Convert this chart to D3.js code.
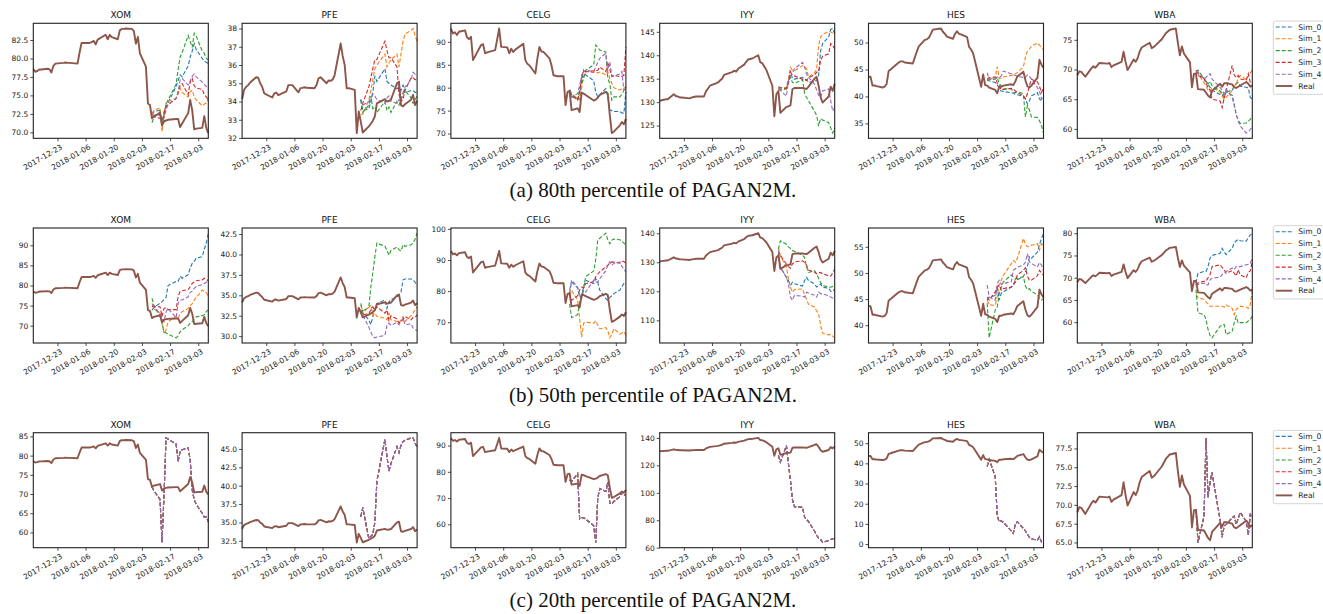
<!DOCTYPE html>
<html>
<head>
<meta charset="utf-8">
<script src="https://cdn.jsdelivr.net/npm/d3@7"></script>
<style>
body { margin: 0; background: #fff; }
</style>
</head>
<body>
<div id="chart"></div>
<script>
const tickers = ["XOM", "PFE", "CELG", "IYY", "HES", "WBA"]
const captions = ["(a) 80th percentile of PAGAN2M.", "(b) 50th percentile of PAGAN2M.", "(c) 20th percentile of PAGAN2M."]
const series_names = ["Sim_0", "Sim_1", "Sim_2", "Sim_3", "Sim_4", "Real"]
const series_colors = ["#1f77b4", "#ff7f0e", "#2ca02c", "#d62728", "#9467bd", "#8c564b"]
const date_ticks = ["2017-12-23", "2018-01-06", "2018-01-20", "2018-02-03", "2018-02-17", "2018-03-03"]
const date_range = ["2017-12-11", "2018-03-08"]

const real_dates = [
    "2017-12-11","2017-12-12","2017-12-13","2017-12-14","2017-12-15","2017-12-18","2017-12-19","2017-12-20","2017-12-21","2017-12-22","2017-12-26","2017-12-27","2017-12-28","2017-12-29",
    "2018-01-02","2018-01-03","2018-01-04","2018-01-05","2018-01-08","2018-01-09","2018-01-10","2018-01-11","2018-01-12","2018-01-16","2018-01-17","2018-01-18","2018-01-19","2018-01-22","2018-01-23","2018-01-24","2018-01-25","2018-01-26","2018-01-29","2018-01-30","2018-01-31",
    "2018-02-01","2018-02-02","2018-02-05","2018-02-06","2018-02-07","2018-02-08","2018-02-09","2018-02-12","2018-02-13","2018-02-14","2018-02-15","2018-02-16","2018-02-20","2018-02-21","2018-02-22","2018-02-23","2018-02-26","2018-02-27","2018-02-28",
    "2018-03-01","2018-03-02","2018-03-05","2018-03-06","2018-03-07","2018-03-08"]
const sim_dates = [
    "2018-02-08","2018-02-09","2018-02-12","2018-02-13","2018-02-14","2018-02-15","2018-02-16","2018-02-20","2018-02-21","2018-02-22","2018-02-23","2018-02-26","2018-02-27","2018-02-28",
    "2018-03-01","2018-03-02","2018-03-05","2018-03-06","2018-03-07","2018-03-08"]

// real prices, one value per trading day
const real_xom = [78.55, 78.2, 78.3, 78.5, 78.5, 78.6, 78.55, 78.1, 79.0, 79.3, 79.4, 79.45, 79.4, 79.4,
    79.3, 80.8, 82.1, 82.1, 82.1, 82.2, 82.4, 81.9, 82.55, 83.2, 82.6, 83.2, 82.9, 82.6, 83.8, 84.0, 84.0, 84.05, 84.0, 83.7, 82.0,
    82.9, 80.7, 78.9, 73.9, 73.7, 71.9, 72.2, 72.6, 70.9, 71.5, 71.6, 71.7, 71.8, 71.8, 70.7, 71.2, 72.6, 74.4, 73.0,
    70.4, 70.5, 70.6, 72.2, 70.6, 69.9]
const real_pfe = [34.13, 34.64, 34.8, 34.9, 35.04, 35.33, 35.3, 35.0, 34.8, 34.45, 34.22, 34.45, 34.49, 34.35,
    34.55, 34.9, 34.9, 34.9, 34.5, 34.73, 34.75, 34.78, 34.75, 34.73, 34.9, 35.27, 35.33, 35.0, 35.15, 35.13, 35.2, 35.45, 37.18, 36.5, 36.0,
    34.73, 34.73, 34.64, 32.27, 33.45, 32.9, 32.3, 32.64, 32.78, 32.95, 33.18, 33.9, 34.13, 34.0, 34.03, 34.1, 35.0, 35.09, 33.8,
    33.73, 33.85, 34.1, 34.36, 33.8, 34.05]
const real_celg = [92.9, 91.8, 92.1, 91.5, 92.2, 92.5, 91.0, 90.6, 91.1, 86.0, 89.3, 89.5, 87.5, 87.7,
    88.2, 90.5, 92.9, 88.9, 88.8, 87.5, 88.5, 87.8, 88.3, 89.6, 86.0, 85.2, 84.9, 83.1, 86.4, 88.9, 87.9, 87.8, 86.4, 84.9, 82.7,
    82.6, 82.5, 82.5, 76.2, 79.1, 79.3, 75.1, 75.5, 74.7, 78.9, 78.7, 78.4, 77.2, 77.4, 77.8, 78.4, 79.1, 78.7, 74.0,
    70.1, 70.4, 71.8, 72.5, 72.0, 73.2]
const real_iyy = [130.25, 130.4, 130.5, 130.6, 130.6, 131.7, 131.3, 131.2, 131.0, 131.0, 130.8, 131.0, 131.1, 131.2,
    131.2, 132.3, 132.9, 133.5, 134.0, 134.2, 134.6, 135.0, 135.8, 136.4, 136.7, 136.5, 137.1, 138.0, 138.6, 139.1, 139.2, 139.3, 140.0, 138.5, 138.3,
    137.6, 136.9, 133.5, 127.0, 131.7, 132.4, 127.7, 129.0, 129.1, 129.3, 132.8, 133.0, 133.0, 132.9, 132.8, 133.3, 135.0, 135.4, 133.5,
    131.0, 129.9, 131.2, 133.3, 132.4, 133.9]
const real_hes = [43.66, 43.66, 42.0, 42.05, 41.9, 41.65, 41.8, 42.3, 44.7, 45.0, 46.3, 46.5, 46.5, 46.3,
    46.1, 47.2, 48.3, 49.3, 50.5, 50.6, 50.9, 51.6, 52.4, 52.6, 52.0, 51.6, 51.1, 50.7, 51.6, 52.1, 51.6, 51.5, 51.0, 49.2, 48.7,
    48.0, 46.5, 41.8, 44.1, 42.1, 42.0, 41.65, 41.2, 40.6, 41.8, 41.8, 42.0, 42.25, 42.1, 42.8, 43.7, 44.6, 43.0, 41.9,
    41.65, 42.0, 43.5, 46.8, 45.9, 45.3]
const real_wba = [69.0, 69.7, 69.6, 69.2, 68.8, 70.2, 70.55, 70.3, 70.7, 71.1, 71.0, 71.1, 70.4, 70.7,
    71.3, 73.0, 71.3, 69.9, 71.7, 71.3, 71.9, 73.0, 73.7, 74.5, 73.6, 73.8, 74.1, 75.1, 75.6, 76.1, 76.4, 76.7, 76.9, 74.5, 72.4,
    73.9, 72.7, 71.2, 67.0, 69.3, 69.3, 66.7, 66.6, 66.1, 65.6, 65.3, 66.4, 67.6, 67.1, 67.7, 67.7, 67.5, 67.0, 66.9,
    67.1, 67.3, 67.9, 67.6, 67.1, 67.3]

// (a) 80th percentile, Sim_0..Sim_4
const sims_a_xom = [
    [72.4, 72.8, 73.0, 71.0, 72.8, 73.5, 74.0, 76.2, 77.0, 77.8, 77.5, 79.0, 80.2, 81.0, 82.0, 81.2, 80.0, 79.6, 79.5, 79.3],
    [72.5, 73.0, 73.3, 70.1, 72.0, 74.0, 74.2, 74.6, 75.2, 76.0, 75.4, 74.8, 75.5, 75.7, 74.8, 74.4, 73.6, 73.8, 74.0, 74.6],
    [71.3, 72.0, 72.8, 71.5, 72.5, 73.8, 74.4, 76.5, 78.5, 80.2, 80.8, 83.1, 82.3, 81.5, 83.4, 83.0, 81.0, 80.7, 80.0, 79.8],
    [72.2, 72.1, 71.9, 71.2, 72.5, 73.5, 73.7, 74.6, 75.5, 76.4, 76.6, 75.1, 76.8, 77.3, 76.3, 76.0, 75.8, 75.1, 74.8, 74.4],
    [72.5, 72.3, 72.4, 71.0, 72.0, 73.0, 73.8, 74.6, 75.5, 77.1, 77.3, 76.4, 77.0, 77.6, 77.9, 77.5, 76.8, 76.5, 76.2, 76.0]]
const sims_a_pfe = [
    [34.1, 33.5, 33.6, 34.0, 34.5, 35.4, 35.1, 35.8, 35.1, 35.0, 34.9, 34.7, 34.8, 34.6, 34.9, 34.5, 34.6, 34.6, 34.5, 34.5],
    [33.3, 33.3, 34.1, 34.6, 35.2, 35.8, 36.0, 36.6, 35.9, 36.1, 36.3, 36.6, 35.9, 36.6, 37.3, 37.7, 37.9, 38.0, 37.6, 37.3],
    [34.1, 33.4, 33.8, 34.3, 33.6, 33.7, 33.4, 34.0, 33.5, 33.7, 33.4, 34.0, 33.8, 34.1, 34.4, 34.6, 34.2, 33.9, 34.1, 34.3],
    [33.5, 33.9, 34.8, 35.3, 35.8, 36.3, 36.3, 37.3, 36.8, 36.4, 36.4, 35.9, 34.4, 34.0, 34.1, 34.6, 35.3, 35.3, 35.2, 35.2],
    [34.1, 33.8, 34.0, 34.2, 34.4, 34.3, 34.1, 33.9, 34.2, 34.3, 34.0, 33.9, 34.1, 34.0, 34.5, 34.8, 35.2, 35.6, 35.5, 35.45]]
const sims_a_celg = [
    [79.5, 78.0, 77.6, 77.6, 81.5, 83.8, 82.8, 81.5, 79.0, 78.0, 78.5, 79.8, 78.0, 75.1, 75.0, 74.8, 74.8, 74.5, 74.4, 79.1],
    [79.1, 78.5, 77.6, 77.3, 80.0, 82.5, 83.5, 83.8, 83.6, 83.2, 83.4, 82.8, 83.5, 82.0, 80.9, 80.0, 79.5, 79.8, 79.9, 80.2],
    [79.5, 78.8, 77.3, 79.8, 81.0, 82.0, 83.8, 85.0, 89.3, 88.8, 88.2, 87.8, 82.0, 80.9, 77.3, 78.0, 78.0, 78.5, 79.5, 80.2],
    [79.1, 78.4, 77.3, 79.0, 82.7, 83.5, 83.5, 83.4, 83.6, 83.8, 84.5, 83.5, 85.6, 84.0, 82.4, 82.7, 82.4, 82.5, 82.7, 88.9],
    [79.6, 78.0, 78.7, 80.5, 82.4, 83.5, 83.8, 83.5, 84.5, 85.5, 86.4, 87.5, 83.8, 85.6, 82.7, 82.5, 83.0, 83.5, 79.5, 79.8]]
const sims_a_iyy = [
    [132.8, 132.6, 133.0, 134.8, 136.7, 135.0, 134.9, 135.3, 134.9, 134.8, 134.2, 134.5, 134.6, 135.6, 141.0, 142.5, 143.9, 145.5, 145.7, 144.6],
    [132.8, 132.6, 132.8, 135.0, 137.4, 136.8, 136.7, 137.8, 137.5, 137.2, 135.3, 136.3, 137.0, 142.1, 143.9, 144.5, 145.0, 145.0, 144.7, 144.6],
    [133.1, 132.8, 132.8, 134.4, 135.3, 134.2, 134.0, 134.8, 132.0, 131.0, 130.3, 128.0, 127.2, 124.9, 126.5, 126.2, 125.6, 124.5, 123.4, 124.5],
    [133.3, 133.1, 133.0, 134.0, 136.4, 135.8, 135.6, 134.9, 134.8, 134.6, 135.2, 135.8, 136.4, 136.4, 138.9, 139.8, 140.3, 142.5, 142.0, 141.4],
    [132.8, 132.5, 131.3, 134.6, 135.6, 136.2, 137.1, 138.5, 137.5, 136.0, 135.3, 133.8, 132.6, 131.5, 131.0, 132.4, 132.8, 130.3, 128.1, 128.8]]
const sims_a_hes = [
    [43.2, 42.9, 42.6, 42.2, 41.4, 41.0, 40.9, 40.7, 40.6, 40.4, 40.3, 40.0, 39.6, 38.6, 39.2, 40.1, 40.7, 39.5, 39.3, 39.2],
    [42.9, 43.2, 43.5, 45.5, 43.3, 43.4, 43.6, 43.9, 44.0, 44.2, 44.4, 45.5, 47.3, 48.4, 48.8, 49.3, 49.9, 49.5, 49.1, 48.7],
    [42.9, 43.1, 43.2, 43.5, 42.4, 41.9, 41.4, 41.4, 40.8, 40.7, 40.9, 40.5, 36.2, 38.3, 37.5, 36.2, 36.1, 35.5, 34.6, 33.2],
    [43.2, 43.5, 43.6, 42.5, 42.0, 41.2, 41.3, 41.5, 41.4, 41.0, 40.7, 40.1, 39.5, 40.5, 42.0, 43.2, 42.7, 41.9, 40.7, 41.6],
    [44.4, 43.2, 43.4, 43.6, 43.5, 43.8, 44.7, 44.2, 44.0, 43.9, 43.8, 43.5, 43.5, 44.0, 43.7, 43.2, 41.6, 41.0, 39.5, 40.1]]
const sims_a_wba = [
    [69.6, 69.3, 68.5, 68.0, 67.5, 67.0, 66.5, 65.8, 65.6, 66.0, 66.2, 66.5, 67.2, 67.6, 67.8, 67.2, 67.0, 66.9, 65.3, 65.0],
    [69.6, 69.3, 67.8, 67.3, 66.5, 66.4, 67.0, 66.2, 65.5, 65.0, 65.3, 66.5, 67.2, 67.6, 68.5, 69.0, 68.3, 68.9, 69.4, 69.9],
    [69.6, 69.9, 68.5, 68.0, 67.6, 68.0, 67.3, 66.4, 66.0, 65.3, 66.2, 65.7, 64.2, 62.4, 61.5, 60.9, 61.0, 61.3, 61.6, 62.2],
    [69.9, 69.0, 68.5, 67.7, 67.0, 66.5, 65.0, 64.7, 63.6, 65.2, 66.5, 70.7, 69.1, 68.6, 69.0, 68.4, 68.2, 69.3, 67.8, 67.6],
    [69.6, 69.6, 68.4, 68.7, 69.0, 69.3, 68.4, 67.0, 66.5, 65.9, 66.7, 65.3, 64.0, 62.4, 61.3, 60.5, 59.3, 59.5, 59.9, 60.4]]

// (b) 50th percentile
const sims_b_xom = [
    [73.9, 74.5, 75.6, 76.0, 76.5, 77.0, 80.0, 81.0, 81.0, 82.3, 81.8, 82.7, 84.3, 85.5, 86.0, 86.8, 87.2, 89.0, 90.5, 93.0],
    [75.6, 74.2, 73.1, 71.0, 68.0, 69.0, 71.0, 72.3, 71.8, 73.1, 73.5, 74.3, 75.0, 75.5, 76.4, 77.0, 78.9, 78.5, 78.2, 77.3],
    [76.8, 75.0, 72.4, 70.4, 68.5, 68.2, 67.9, 67.0, 67.5, 68.5, 69.0, 70.0, 70.6, 71.0, 71.8, 72.2, 72.5, 72.7, 73.5, 73.9],
    [74.75, 74.8, 74.7, 72.3, 74.3, 74.5, 74.0, 74.0, 77.3, 78.5, 78.7, 79.0, 79.7, 80.5, 80.9, 81.2, 81.4, 81.8, 81.5, 81.2],
    [75.2, 74.8, 73.0, 71.9, 71.0, 73.5, 74.3, 72.0, 75.6, 76.4, 76.4, 77.2, 78.3, 78.6, 79.3, 79.8, 80.2, 80.5, 80.8, 81.4]]
const sims_b_pfe = [
    [32.8, 32.8, 32.0, 31.4, 32.4, 33.2, 34.0, 34.4, 33.4, 34.2, 34.5, 34.8, 35.0, 35.4, 36.9, 37.0, 37.0, 36.9, 36.6, 36.3],
    [33.8, 33.1, 33.5, 33.8, 32.6, 32.8, 32.4, 32.2, 32.0, 32.8, 32.0, 31.8, 31.6, 32.0, 32.4, 31.8, 32.5, 32.8, 33.3, 33.6],
    [34.0, 32.9, 33.6, 36.0, 37.8, 39.7, 41.4, 41.0, 40.5, 39.9, 40.5, 40.9, 40.6, 40.4, 41.2, 41.0, 41.2, 41.4, 41.9, 42.6],
    [33.2, 32.6, 32.8, 33.2, 33.6, 33.2, 33.6, 32.8, 33.2, 31.9, 32.5, 32.1, 31.6, 31.8, 32.0, 32.4, 32.0, 32.3, 32.3, 32.6],
    [33.2, 32.6, 31.1, 30.5, 30.0, 29.8, 29.9, 30.1, 31.3, 31.6, 31.3, 31.7, 31.4, 31.8, 32.2, 31.4, 31.5, 31.0, 30.8, 30.7]]
const sims_b_celg = [
    [79.2, 83.0, 81.0, 78.1, 78.6, 81.3, 83.5, 82.4, 84.0, 82.9, 80.3, 77.6, 77.0, 78.0, 78.5, 79.2, 80.3, 81.5, 82.4, 81.9],
    [78.6, 80.3, 77.0, 71.1, 65.2, 69.7, 70.0, 69.7, 70.5, 69.0, 67.9, 68.3, 67.3, 65.0, 66.0, 67.9, 66.2, 66.5, 67.0, 65.8],
    [75.9, 71.5, 72.4, 76.5, 78.4, 81.0, 84.6, 86.5, 90.0, 96.4, 97.0, 98.6, 96.5, 95.2, 96.4, 96.7, 96.5, 96.0, 95.4, 94.8],
    [79.2, 77.0, 78.5, 80.3, 81.3, 81.0, 82.4, 83.0, 84.6, 85.5, 86.2, 87.8, 88.3, 89.0, 89.4, 89.3, 89.0, 89.6, 89.5, 88.9],
    [80.3, 83.5, 81.2, 78.6, 77.6, 80.3, 79.7, 83.5, 82.9, 82.9, 84.0, 86.5, 88.3, 89.4, 88.3, 88.9, 89.4, 88.0, 87.0, 86.2]]
const sims_b_iyy = [
    [133.4, 128.3, 124.8, 123.7, 122.0, 123.1, 122.6, 121.8, 123.7, 124.8, 123.7, 122.5, 121.5, 122.0, 122.5, 121.4, 121.1, 120.0, 119.9, 120.8],
    [135.1, 132.2, 128.3, 124.3, 121.4, 119.7, 120.6, 120.8, 118.9, 117.2, 115.5, 114.6, 113.2, 112.3, 108.3, 105.5, 105.0, 105.2, 104.5, 104.0],
    [134.5, 137.4, 136.2, 135.3, 134.8, 134.0, 133.8, 132.4, 131.7, 128.3, 126.5, 127.1, 126.0, 124.5, 123.1, 122.0, 121.5, 121.4, 121.7, 122.0],
    [134.0, 132.3, 129.4, 128.5, 128.0, 129.5, 130.1, 130.5, 130.0, 129.0, 127.3, 126.6, 126.0, 126.4, 126.5, 126.0, 125.4, 125.2, 126.3, 127.7],
    [134.0, 128.3, 124.8, 122.6, 118.0, 116.9, 118.6, 118.3, 118.0, 119.7, 119.4, 118.6, 118.0, 119.7, 119.2, 119.1, 118.5, 118.0, 117.7, 117.4]]
const sims_b_hes = [
    [44.8, 45.4, 45.7, 47.3, 44.8, 46.1, 46.4, 47.3, 47.7, 48.2, 48.7, 49.3, 50.2, 51.2, 53.1, 52.8, 54.0, 55.4, 56.6, 57.6],
    [44.8, 43.9, 43.8, 45.5, 48.0, 48.6, 49.5, 51.8, 52.4, 52.0, 52.8, 56.6, 55.5, 55.0, 55.0, 55.3, 55.6, 54.4, 55.6, 55.3],
    [44.2, 37.6, 42.9, 43.5, 46.0, 47.2, 48.3, 49.6, 49.2, 48.8, 49.0, 49.3, 47.5, 46.8, 47.0, 46.5, 45.8, 45.2, 44.8, 45.1],
    [45.4, 44.8, 46.4, 47.3, 47.7, 46.7, 47.0, 47.3, 47.8, 48.6, 49.6, 50.5, 51.0, 49.4, 48.6, 48.6, 49.5, 50.5, 50.0, 49.6],
    [47.7, 45.4, 44.8, 48.0, 48.6, 47.8, 48.0, 48.3, 50.5, 50.8, 51.1, 51.5, 52.1, 53.7, 52.1, 51.8, 51.2, 52.0, 51.5, 50.5]]
const sims_b_wba = [
    [68.8, 71.0, 71.4, 71.4, 72.5, 74.4, 75.0, 75.5, 76.6, 75.8, 75.2, 76.6, 77.8, 78.3, 78.6, 78.3, 78.2, 79.0, 79.6, 80.0],
    [66.2, 65.6, 65.1, 64.5, 64.1, 63.6, 63.6, 63.6, 63.6, 63.4, 63.9, 63.1, 61.7, 62.9, 63.2, 63.6, 63.4, 63.1, 63.9, 67.3],
    [67.3, 62.1, 61.7, 60.6, 58.4, 57.0, 56.5, 59.1, 59.4, 59.5, 57.2, 58.0, 59.9, 61.3, 59.8, 59.9, 59.9, 60.3, 60.6, 61.3],
    [68.4, 68.8, 69.2, 69.2, 70.0, 70.7, 72.5, 72.9, 72.3, 71.8, 71.0, 71.6, 71.0, 70.4, 71.8, 70.6, 70.0, 71.2, 71.5, 73.7],
    [68.1, 68.5, 68.8, 68.4, 68.4, 69.5, 69.9, 70.1, 70.7, 71.0, 71.4, 72.2, 71.8, 72.5, 72.5, 72.5, 72.9, 73.0, 73.3, 74.4]]

// (c) 20th percentile: all five sims land on the same path
const sim_c_xom = [71.9, 70.8, 68.6, 57.4, 70.0, 84.6, 84.3, 83.0, 78.5, 81.1, 81.5, 82.0, 78.9, 71.1, 68.5, 67.3, 65.0, 64.0, 64.1, 62.8]
const sim_c_pfe = [35.8, 37.0, 32.8, 33.1, 33.4, 35.0, 40.6, 46.3, 44.0, 42.0, 43.0, 45.3, 44.5, 45.5, 46.0, 46.2, 46.5, 46.5, 45.8, 45.2]
const sim_c_celg = [76.8, 76.3, 79.3, 62.0, 62.5, 62.5, 62.0, 59.5, 53.1, 70.0, 73.6, 72.5, 76.0, 68.0, 67.8, 68.7, 70.5, 72.0, 71.0, 71.5]
const sim_c_iyy = [127.2, 122.4, 134.4, 121.2, 109.0, 95.0, 89.8, 89.5, 82.5, 80.5, 79.0, 72.0, 69.0, 67.0, 66.0, 63.8, 65.2, 66.0, 66.5, 66.8]
const sim_c_hes = [38.5, 42.0, 33.5, 14.0, 11.0, 11.5, 10.8, 6.5, 5.3, 10.0, 11.0, 7.8, 6.5, 5.0, 3.3, 2.5, 2.0, 3.6, 1.0, 0.8]
const sim_c_wba = [69.4, 65.0, 68.5, 78.9, 71.0, 73.0, 74.3, 68.0, 65.7, 67.2, 67.4, 68.3, 68.5, 67.4, 68.2, 69.0, 67.8, 66.0, 68.7, 68.3]

const y_ticks_a = [[70, 72.5, 75, 77.5, 80, 82.5], [32, 33, 34, 35, 36, 37, 38], [70, 75, 80, 85, 90], [125, 130, 135, 140, 145], [35, 40, 45, 50], [60, 65, 70, 75]]
const y_ticks_b = [[70, 75, 80, 85, 90], [30, 32.5, 35, 37.5, 40, 42.5], [70, 80, 90, 100], [110, 120, 130, 140], [40, 45, 50, 55], [60, 65, 70, 75, 80]]
const y_ticks_c = [[60, 65, 70, 75, 80, 85], [32.5, 35, 37.5, 40, 42.5, 45], [60, 70, 80, 90], [60, 80, 100, 120, 140], [0, 10, 20, 30, 40, 50], [65, 67.5, 70, 72.5, 75, 77.5]]

const reals = [real_xom, real_pfe, real_celg, real_iyy, real_hes, real_wba]
const sims_c = [sim_c_xom, sim_c_pfe, sim_c_celg, sim_c_iyy, sim_c_hes, sim_c_wba]
const rows = [
    { sims: [sims_a_xom, sims_a_pfe, sims_a_celg, sims_a_iyy, sims_a_hes, sims_a_wba], ticks: y_ticks_a },
    { sims: [sims_b_xom, sims_b_pfe, sims_b_celg, sims_b_iyy, sims_b_hes, sims_b_wba], ticks: y_ticks_b },
    { sims: sims_c.map(s => [s, s, s, s, s]), ticks: y_ticks_c }
]

const font = "DejaVu Sans, sans-serif"
const panel_w = 175
const panel_h = 115
const col_x = i => 33.3 + i * 208.8
const row_y = r => 23.3 + r * 204.7

const parse_date = d3.timeParse("%Y-%m-%d")
const real_x = real_dates.map(parse_date)
const sim_x = sim_dates.map(parse_date)

let svg = d3.select("#chart").append("svg")
    .attr("width", 1323)
    .attr("height", 614)
    .style("background", "#fff")

let x = d3.scaleTime()
    .domain(date_range.map(parse_date))
    .range([0, panel_w])

function draw_panel(g, ticker, real, sims, ticks) {
    // y limits like matplotlib: data extent plus 5% margin
    let all = real.concat(...sims)
    let lo = d3.min(all), hi = d3.max(all)
    let pad = (hi - lo) * 0.05
    let y = d3.scaleLinear().domain([lo - pad, hi + pad]).range([panel_h, 0])

    let line = d3.line()
        .x(d => x(d[0]))
        .y(d => y(d[1]))

    sims.forEach((s, i) => {
        g.append("path")
            .datum(d3.zip(sim_x, s))
            .attr("d", line)
            .attr("fill", "none")
            .attr("stroke", series_colors[i])
            .attr("stroke-width", 1.1)
            .attr("stroke-dasharray", "4,2")
    })
    g.append("path")
        .datum(d3.zip(real_x, real))
        .attr("d", line)
        .attr("fill", "none")
        .attr("stroke", series_colors[5])
        .attr("stroke-width", 1.9)
        .attr("stroke-linejoin", "round")

    let fmt = d3.format(ticks.some(t => t % 1 != 0) ? ".1f" : ".0f")
    let y_axis = g.append("g")
        .call(d3.axisLeft(y).tickValues(ticks).tickFormat(fmt).tickSize(3).tickPadding(2).tickSizeOuter(0))
    let x_axis = g.append("g")
        .attr("transform", `translate(0,${panel_h})`)
        .call(d3.axisBottom(x).tickValues(date_ticks.map(parse_date)).tickFormat(d3.timeFormat("%Y-%m-%d")).tickSize(3).tickSizeOuter(0))

    x_axis.selectAll(".tick text")
        .attr("y", 0)
        .attr("dy", "0.8em")
        .attr("text-anchor", "end")
        .attr("transform", "translate(2,5) rotate(-30)")

    for (let a of [x_axis, y_axis]) {
        a.select(".domain").remove()
        a.selectAll("text").style("font-family", font).style("font-size", "7.5px").attr("fill", "#222")
        a.selectAll("line").attr("stroke", "#222").attr("stroke-width", 0.8)
    }

    g.append("rect")
        .attr("width", panel_w)
        .attr("height", panel_h)
        .attr("fill", "none")
        .attr("stroke", "#222")
        .attr("stroke-width", 1.1)

    g.append("text")
        .attr("x", panel_w / 2)
        .attr("y", -5)
        .attr("text-anchor", "middle")
        .style("font-family", font)
        .style("font-size", "9px")
        .attr("fill", "#111")
        .text(ticker)
}

function draw_legend(top) {
    let g = svg.append("g").attr("transform", `translate(1273.3,${top - 2.3})`)
    g.append("rect")
        .attr("width", 70)
        .attr("height", 73.3)
        .attr("rx", 2)
        .attr("fill", "#fff")
        .attr("fill-opacity", 0.8)
        .attr("stroke", "#ccc")
        .attr("stroke-width", 0.8)
    series_names.forEach((name, i) => {
        let cy = 6 + i * 11.8
        g.append("line")
            .attr("x1", 2.4).attr("x2", 19)
            .attr("y1", cy).attr("y2", cy)
            .attr("stroke", series_colors[i])
            .attr("stroke-width", i == 5 ? 1.9 : 1.1)
            .attr("stroke-dasharray", i == 5 ? null : "4,2")
        g.append("text")
            .attr("x", 25)
            .attr("y", cy)
            .attr("dy", "0.35em")
            .style("font-family", font)
            .style("font-size", "7.6px")
            .attr("fill", "#222")
            .text(name)
    })
}

rows.forEach((row, r) => {
    tickers.forEach((ticker, i) => {
        let g = svg.append("g").attr("transform", `translate(${col_x(i)},${row_y(r)})`)
        draw_panel(g, ticker, reals[i], row.sims[i], row.ticks[i])
    })
    draw_legend(row_y(r))
    svg.append("text")
        .attr("x", 653)
        .attr("y", row_y(r) + 174)
        .attr("text-anchor", "middle")
        .style("font-family", "Liberation Serif, Times New Roman, serif")
        .style("font-size", "21px")
        .attr("fill", "#111")
        .text(captions[r])
})
</script>
</body>
</html>
